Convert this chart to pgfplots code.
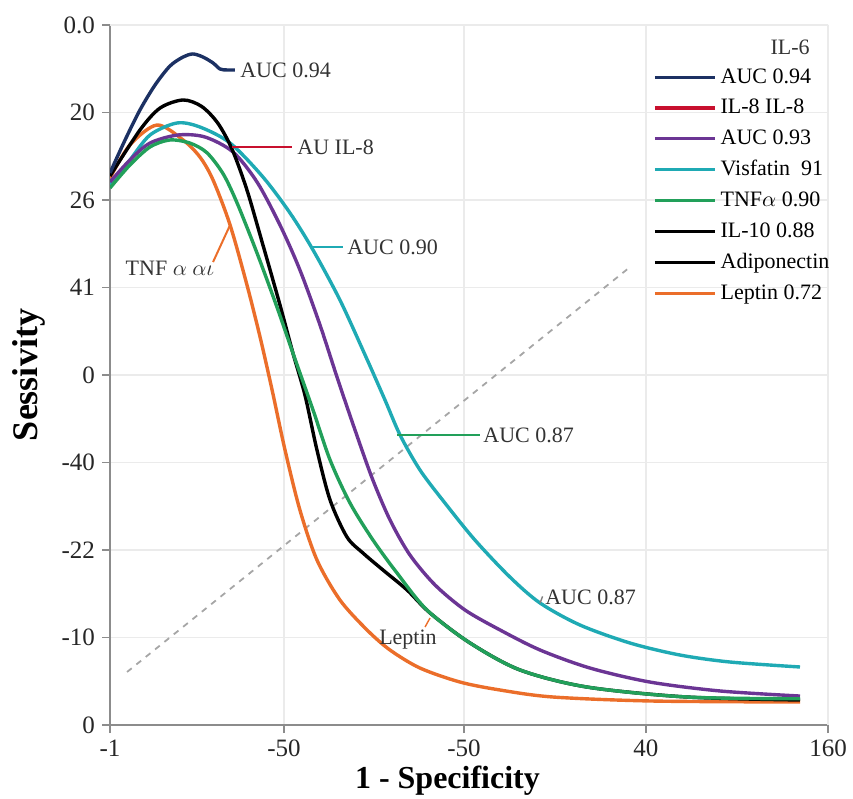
\documentclass[border=0pt]{standalone}
\usepackage{fontspec}
\setmainfont{Liberation Serif}
\usepackage{pgfplots}
\pgfplotsset{compat=1.18}
\definecolor{cnavy}{HTML}{1C3163}
\definecolor{cred}{HTML}{C8102E}
\definecolor{cpurple}{HTML}{6B3594}
\definecolor{ccyan}{HTML}{1FAAB4}
\definecolor{cgreen}{HTML}{22A05A}
\definecolor{corange}{HTML}{EB6E2A}
\definecolor{axgray}{HTML}{8C8C8C}
\definecolor{gridc}{HTML}{EBEBEB}
\begin{document}
\begin{tikzpicture}
\begin{axis}[
 scale only axis, width=359pt, height=350pt,
 xmin=0, xmax=4, ymin=0, ymax=8,
 xtick={0,0.969,1.972,2.986,4}, xticklabels={-1,-50,-50,40,160},
 ytick={0,1,2,3,4,5,6,7,8}, yticklabels={0,-10,-22,-40,0,41,26,20,0.0},
 /pgf/number format/assume math mode=true,
 ticklabel style={font=\fontsize{12.5}{14}\selectfont, text=black!85},
 axis x line*=bottom, axis y line*=left,
 axis line style={axgray, line width=1.1pt},
 tick align=outside, major tick length=4pt,
 tick style={axgray, line width=0.8pt},
 grid=major, major grid style={gridc, line width=0.6pt},
 xlabel={1 - Specificity}, ylabel={Sessivity},
 xlabel style={font=\fontsize{16}{18}\bfseries\selectfont, at={(axis description cs:0.47,-0.079)}, anchor=center},
 ylabel style={font=\fontsize{18}{20}\bfseries\selectfont, at={(axis description cs:-0.113,0.5)}, anchor=center},
 legend style={draw=none, fill=none, at={(rel axis cs:0.756,0.944)}, anchor=north west,
   font=\fontsize{11}{13}\selectfont, row sep=2.5pt, inner sep=0pt, cells={anchor=west}},
 legend image code/.code={\draw[#1,line width=1.7pt] (0pt,0pt) -- (30pt,0pt);},
 every axis plot/.append style={line width=1.7pt},
]
\draw[gridc, line width=0.8pt] (rel axis cs:0,1) -- (rel axis cs:1,1) -- (rel axis cs:1,0);
% chance line
\addplot[forget plot, gray!70, dashed, line width=0.9pt] coordinates {(0.095,0.606) (2.897,5.234)};
% Leptin
\addplot[forget plot, corange, smooth, tension=0.5] coordinates {
 (0,6.251) (0.111,6.629) (0.262,6.857) (0.407,6.686) (0.501,6.491) (0.574,6.229)
 (0.669,5.714) (0.763,5.029) (0.836,4.434) (0.903,3.829) (0.975,3.143) (1.058,2.457)
 (1.153,1.886) (1.281,1.429) (1.432,1.086) (1.560,0.857) (1.727,0.651) (1.950,0.491)
 (2.173,0.400) (2.468,0.320) (3.025,0.274) (3.844,0.263)};
% Visfatin
\addplot[forget plot, ccyan, smooth, tension=0.5] coordinates {
 (0,6.171) (0.111,6.457) (0.223,6.743) (0.373,6.880) (0.501,6.834) (0.669,6.651)
 (0.852,6.263) (1.003,5.851) (1.131,5.429) (1.281,4.857) (1.421,4.229) (1.532,3.714)
 (1.616,3.314) (1.727,2.914) (1.866,2.537) (2.033,2.114) (2.228,1.691) (2.396,1.394)
 (2.618,1.143) (2.897,0.937) (3.175,0.800) (3.454,0.720) (3.844,0.663)};
% AUC 0.93
\addplot[forget plot, cpurple, smooth, tension=0.5] coordinates {
 (0,6.206) (0.111,6.457) (0.223,6.651) (0.379,6.743) (0.529,6.720) (0.685,6.549)
 (0.819,6.206) (0.947,5.714) (1.058,5.200) (1.170,4.571) (1.270,3.943) (1.365,3.371)
 (1.460,2.823) (1.560,2.343) (1.671,1.943) (1.811,1.600) (1.978,1.314) (2.173,1.086)
 (2.396,0.857) (2.674,0.651) (3.008,0.491) (3.398,0.389) (3.844,0.331)};
% IL-10
\addplot[forget plot, black, smooth, tension=0.5] coordinates {
 (0,6.274) (0.167,6.800) (0.279,7.051) (0.407,7.143) (0.510,7.070) (0.600,6.880)
 (0.680,6.580) (0.763,6.114) (0.852,5.486) (0.947,4.800) (1.019,4.251) (1.086,3.771)
 (1.153,3.143) (1.226,2.571) (1.320,2.149) (1.409,1.966) (1.521,1.771) (1.655,1.543)
 (1.783,1.280) (2.006,0.937) (2.284,0.629) (2.657,0.434) (3.214,0.320) (3.844,0.286)};
% TNF alpha
\addplot[forget plot, cgreen, smooth, tension=0.5] coordinates {
 (0,6.137) (0.111,6.400) (0.223,6.606) (0.334,6.686) (0.446,6.650) (0.540,6.540)
 (0.630,6.300) (0.708,5.966) (0.819,5.394) (0.930,4.777) (1.019,4.251) (1.131,3.600)
 (1.226,3.029) (1.337,2.537) (1.465,2.114) (1.599,1.737) (1.766,1.314) (2.006,0.937)
 (2.284,0.629) (2.657,0.434) (3.214,0.320) (3.844,0.300)};
% IL-6
\addplot[forget plot, cnavy, smooth, tension=0.5] coordinates {
 (0,6.309) (0.084,6.686) (0.167,7.029) (0.251,7.314) (0.334,7.531) (0.407,7.634)
 (0.462,7.669) (0.518,7.634) (0.574,7.566) (0.613,7.497) (0.652,7.486) (0.696,7.486)};
% annotations
\draw[cred, line width=1pt] (axis cs:0.680,6.606) -- (axis cs:1.014,6.606);
\draw[ccyan, line width=1pt] (axis cs:1.120,5.463) -- (axis cs:1.298,5.463);
\draw[corange, line width=1pt] (axis cs:0.574,5.291) -- (axis cs:0.669,5.714);
\draw[cgreen, line width=1pt] (axis cs:1.600,3.314) -- (axis cs:2.061,3.314);
\draw[gray, line width=0.7pt] (axis cs:2.396,1.394) -- (axis cs:2.41,1.47);
\draw[corange, line width=0.7pt] (axis cs:1.755,1.12) -- (axis cs:1.783,1.223);
\begin{scope}[every node/.style={font=\fontsize{11}{13}\selectfont, text=black!80, inner sep=0pt}]
\node[anchor=west] at (axis cs:0.724,7.486) {AUC 0.94};
\node[anchor=west] at (axis cs:1.042,6.606) {AU IL-8};
\node[anchor=west] at (axis cs:1.320,5.463) {AUC 0.90};
\node at (axis cs:0.334,5.223) {TNF $\alpha$ $\alpha\iota$};
\node[anchor=west] at (axis cs:2.078,3.314) {AUC 0.87};
\node[anchor=west] at (axis cs:2.423,1.463) {AUC 0.87};
\node at (axis cs:1.660,0.971) {Leptin};
\node[anchor=east] at (axis cs:3.900,7.749) {IL-6};
\end{scope}
% legend
\addlegendimage{cnavy}\addlegendentry{AUC 0.94}
\addlegendimage{cred}\addlegendentry{IL-8 IL-8}
\addlegendimage{cpurple}\addlegendentry{AUC 0.93}
\addlegendimage{ccyan}\addlegendentry{Visfatin\ \ 91}
\addlegendimage{cgreen}\addlegendentry{TNF$\alpha$ 0.90}
\addlegendimage{black}\addlegendentry{IL-10 0.88}
\addlegendimage{black}\addlegendentry{Adiponectin}
\addlegendimage{corange}\addlegendentry{Leptin 0.72}
\end{axis}
\pgfresetboundingbox
\path (current axis.south west) ++(-55pt,-36.5pt);
\path (current axis.north east) ++(12.5pt,12.5pt);
\end{tikzpicture}
\end{document}
